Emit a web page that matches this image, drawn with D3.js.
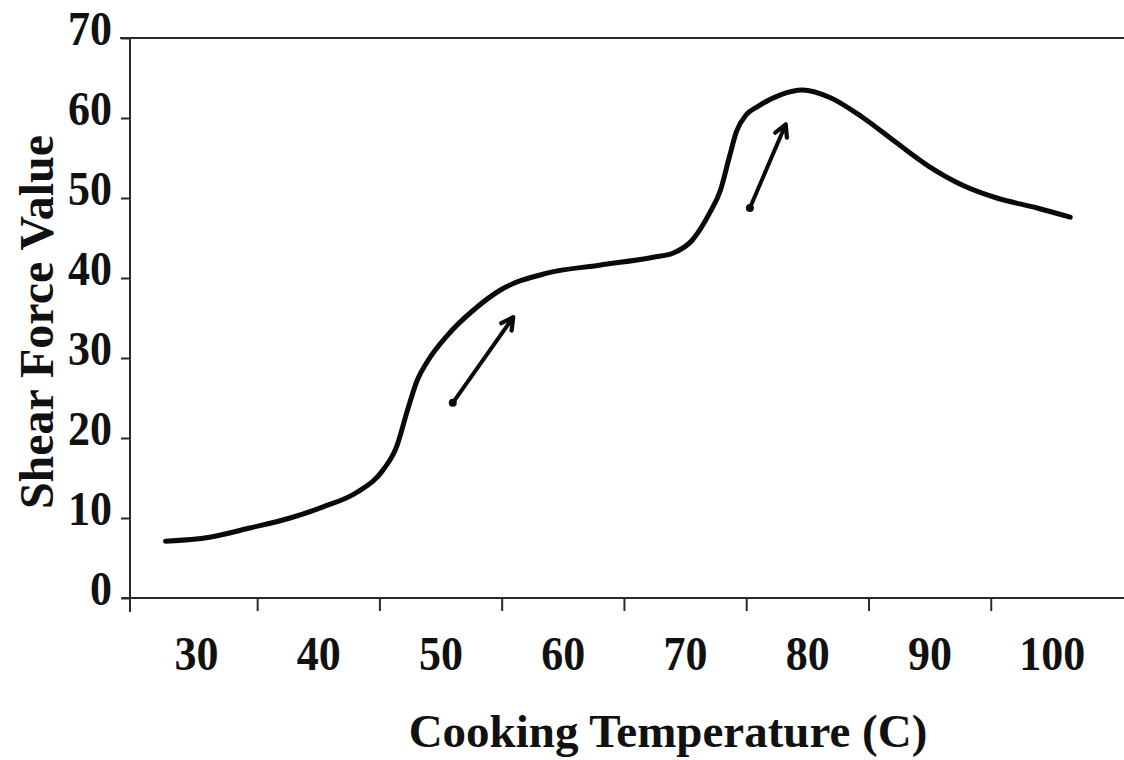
<!DOCTYPE html>
<html>
<head>
<meta charset="utf-8">
<script src="https://cdn.jsdelivr.net/npm/d3@7"></script>
<style>
  html, body { margin: 0; padding: 0; background: #fff; }
  svg { display: block; }
  text { font-family: "Liberation Serif", "Times New Roman", serif; font-weight: bold; fill: #111; }
</style>
</head>
<body>
<svg id="chart" width="1124" height="760"></svg>
<script>
// Shear force vs cooking temperature
const temperature = [27.5, 31.1, 34.4, 37.7, 40.4, 43.2, 45.3, 46.4, 47.3, 48.1, 48.9, 50.6, 52.7, 54.9, 58.7, 63.0, 67.4, 69.0, 70.6, 72.0, 72.9, 73.6, 74.2, 75.0, 75.9, 77.8, 79.6, 81.8, 84.5, 87.3, 90.0, 92.7, 95.5, 98.8, 101.5];
const shearForce  = [7.1, 7.6, 8.75, 10.0, 11.4, 13.25, 16.0, 18.9, 23.5, 27.25, 29.5, 32.9, 36.0, 38.5, 40.6, 41.6, 42.6, 43.1, 44.75, 48.1, 51.0, 55.0, 58.3, 60.4, 61.4, 62.9, 63.5, 62.6, 60.1, 56.9, 53.9, 51.6, 50.0, 48.75, 47.6];

const xTickLabels = [30, 40, 50, 60, 70, 80, 90, 100];
const xTickMarks  = [35, 45, 55, 65, 75, 85, 95];
const yTicks      = [0, 10, 20, 30, 40, 50, 60, 70];

// Arrows marking the two rising phases
const arrowStartT = [51.0, 75.3];
const arrowStartV = [24.4, 48.75];
const arrowEndT   = [55.9, 78.2];
const arrowEndV   = [35.0, 59.1];

const svg = d3.select("#chart");
const axisColor = "#2a2a2a";
const stretch = 1.1; // tall bold digits

const x = d3.scaleLinear().domain([24.6, 105.9]).range([130, 1124]);
const y = d3.scaleLinear().domain([0, 70]).range([598, 38]);

// Top frame line
svg.append("line")
  .attr("x1", x(24.6) - 10).attr("x2", x(105.9))
  .attr("y1", y(70)).attr("y2", y(70))
  .attr("stroke", axisColor).attr("stroke-width", 2);

// Left axis line, running slightly below the baseline
svg.append("line")
  .attr("x1", x(24.6)).attr("x2", x(24.6))
  .attr("y1", y(70)).attr("y2", y(0) + 14)
  .attr("stroke", axisColor).attr("stroke-width", 2);

// Bottom axis line
svg.append("line")
  .attr("x1", x(24.6) - 8).attr("x2", x(105.9))
  .attr("y1", y(0)).attr("y2", y(0))
  .attr("stroke", axisColor).attr("stroke-width", 2);

// X tick marks between categories
const xMarks = svg.append("g")
  .attr("transform", `translate(0,${y(0)})`)
  .call(d3.axisBottom(x).tickValues(xTickMarks).tickFormat("").tickSize(13).tickSizeOuter(0));
xMarks.select(".domain").remove();
xMarks.selectAll("line").attr("stroke", axisColor).attr("stroke-width", 2);

// X labels
const xLabels = svg.append("g")
  .attr("transform", `translate(0,${y(0)})`)
  .call(d3.axisBottom(x).tickValues(xTickLabels).tickSize(0).tickPadding(0));
xLabels.select(".domain").remove();
xLabels.selectAll("text")
  .attr("y", 72 / stretch).attr("dy", 0)
  .attr("transform", `scale(1,${stretch})`)
  .style("font-size", "44px")
  .style("font-family", "'Liberation Serif', serif")
  .style("font-weight", "bold")
  .attr("fill", "#111");

// Y axis ticks and labels
const yAxis = svg.append("g")
  .attr("transform", `translate(${x(24.6)},0)`)
  .call(d3.axisLeft(y).tickValues(yTicks).tickSize(9).tickPadding(9).tickSizeOuter(0));
yAxis.select(".domain").remove();
yAxis.selectAll("line").attr("stroke", axisColor).attr("stroke-width", 2);
yAxis.selectAll("text")
  .attr("dy", 0)
  .attr("y", 6 / stretch)
  .attr("transform", `scale(1,${stretch})`)
  .style("font-size", "44px")
  .style("font-family", "'Liberation Serif', serif")
  .style("font-weight", "bold")
  .attr("fill", "#111");

// Curve
const pts = temperature.map((t, i) => [t, shearForce[i]]);
const line = d3.line()
  .x(d => x(d[0]))
  .y(d => y(d[1]))
  .curve(d3.curveMonotoneX);

svg.append("path")
  .datum(pts)
  .attr("d", line)
  .attr("fill", "none")
  .attr("stroke", "#0a0a0a")
  .attr("stroke-width", 5)
  .attr("stroke-linecap", "round")
  .attr("stroke-linejoin", "round");

// Arrows
svg.append("defs").append("marker")
  .attr("id", "head")
  .attr("viewBox", "0 0 10 10")
  .attr("refX", 8).attr("refY", 5)
  .attr("markerWidth", 4.5).attr("markerHeight", 4.5)
  .attr("markerUnits", "strokeWidth")
  .attr("orient", "auto")
  .append("path")
  .attr("d", "M2,1.5 L8.5,5 L2,8.5")
  .attr("fill", "none")
  .attr("stroke", "#0a0a0a")
  .attr("stroke-width", 2.4)
  .attr("stroke-linecap", "round")
  .attr("stroke-linejoin", "round");

arrowStartT.forEach((t, i) => {
  svg.append("line")
    .attr("x1", x(t)).attr("y1", y(arrowStartV[i]))
    .attr("x2", x(arrowEndT[i])).attr("y2", y(arrowEndV[i]))
    .attr("stroke", "#0a0a0a")
    .attr("stroke-width", 4)
    .attr("stroke-linecap", "round")
    .attr("marker-end", "url(#head)");
  svg.append("circle")
    .attr("cx", x(t)).attr("cy", y(arrowStartV[i]))
    .attr("r", 4).attr("fill", "#0a0a0a");
});

// Axis titles
svg.append("text")
  .attr("x", 668).attr("y", 747)
  .attr("text-anchor", "middle")
  .style("font-size", "47px")
  .text("Cooking Temperature (C)");

svg.append("text")
  .attr("transform", "translate(53,322) rotate(-90)")
  .attr("text-anchor", "middle")
  .style("font-size", "48px")
  .text("Shear Force Value");
</script>
</body>
</html>
